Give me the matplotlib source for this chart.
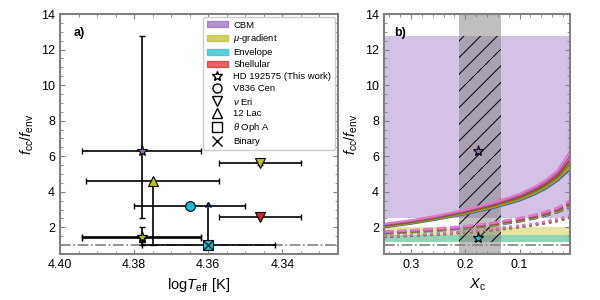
import numpy as np
import matplotlib
matplotlib.use("Agg")
import matplotlib.pyplot as plt
from matplotlib.patches import Patch
from matplotlib.lines import Line2D
from matplotlib.ticker import MultipleLocator

plt.rcParams['font.family'] = ['Liberation Sans', 'DejaVu Sans']
plt.rcParams['mathtext.fontset'] = 'custom'
plt.rcParams['mathtext.rm'] = 'Liberation Sans'
plt.rcParams['mathtext.it'] = 'Liberation Sans:italic'
plt.rcParams['mathtext.bf'] = 'Liberation Sans:bold'
plt.rcParams['hatch.linewidth'] = 0.7

# --- panel a data: (logTeff, f_cc/f_env, x err, y err low, y err high)
hd_cbm = (4.378, 6.28, 0.016, 3.78, 6.49)
hd_env = (4.378, 1.40, 0.016, 0.23, 0.15)
hd_mu = (4.378, 1.48, 0.016, 0.48, 0.56)
lac12 = (4.375, 4.63, 0.018, 3.63, 0.0)
v836 = (4.365, 3.18, 0.015, 0.0, 0.0)
oph = (4.360, 1.00, 0.018, 0.0, 2.14)
eri_mu = (4.346, 5.63, 0.011, 0.15, 0.15)
eri_sh = (4.346, 2.60, 0.011, 0.0, 0.0)

# --- panel b data
xc_obs = 0.176
fcc_cbm_obs = 6.28
fcc_env_obs = 1.40
xc_band = (0.135, 0.211)
cbm_range = (2.50, 12.77)
mu_range = (1.17, 2.04)
env_range = (1.17, 1.55)
hatch_range = (1.17, 12.77)

xc_grid = [0.35, 0.30, 0.25, 0.20, 0.15, 0.10, 0.07, 0.05, 0.03, 0.007]
solid_curves = [
    [2.00, 2.20, 2.45, 2.74, 3.07, 3.50, 3.88, 4.20, 4.62, 5.25],
    [2.04, 2.24, 2.49, 2.79, 3.13, 3.57, 3.96, 4.29, 4.72, 5.40],
    [2.08, 2.28, 2.53, 2.84, 3.19, 3.64, 4.04, 4.38, 4.82, 5.58],
    [2.12, 2.32, 2.58, 2.89, 3.25, 3.72, 4.13, 4.48, 4.94, 5.78],
    [2.16, 2.36, 2.62, 2.94, 3.31, 3.80, 4.22, 4.58, 5.06, 6.00],
    [2.20, 2.40, 2.67, 2.99, 3.38, 3.88, 4.32, 4.70, 5.20, 6.28],
]
dashed_curves = [
    [1.66, 1.73, 1.82, 1.94, 2.10, 2.33, 2.52, 2.67, 2.85, 3.15],
    [1.68, 1.75, 1.85, 1.97, 2.13, 2.37, 2.56, 2.72, 2.90, 3.22],
    [1.70, 1.77, 1.87, 1.99, 2.16, 2.41, 2.60, 2.76, 2.95, 3.29],
    [1.72, 1.79, 1.89, 2.02, 2.19, 2.44, 2.64, 2.81, 3.00, 3.36],
    [1.74, 1.81, 1.91, 2.04, 2.22, 2.48, 2.68, 2.85, 3.05, 3.43],
    [1.76, 1.83, 1.94, 2.07, 2.25, 2.52, 2.72, 2.90, 3.10, 3.52],
]
dotted_curves = [
    [1.46, 1.52, 1.60, 1.70, 1.83, 2.00, 2.13, 2.23, 2.35, 2.52],
    [1.47, 1.53, 1.61, 1.71, 1.85, 2.02, 2.15, 2.25, 2.37, 2.55],
    [1.48, 1.54, 1.62, 1.73, 1.86, 2.04, 2.17, 2.28, 2.40, 2.58],
    [1.49, 1.55, 1.63, 1.74, 1.88, 2.06, 2.19, 2.30, 2.42, 2.61],
    [1.50, 1.56, 1.64, 1.75, 1.89, 2.08, 2.21, 2.32, 2.44, 2.64],
    [1.52, 1.58, 1.66, 1.77, 1.91, 2.10, 2.23, 2.34, 2.47, 2.68],
]
curve_colors = ['tab:blue', 'tab:orange', 'tab:green', 'tab:red', 'tab:purple', 'tab:pink']

c_cbm, c_mu, c_env, c_sh = 'tab:purple', 'tab:olive', 'tab:cyan', 'tab:red'

fig = plt.figure(figsize=(6, 3), dpi=100)
ax1 = fig.add_axes([0.1, 0.1533, 0.4633, 0.80])
ax2 = fig.add_axes([0.64, 0.1533, 0.31, 0.80])


def point(ax, d, marker, color, ms=6.5, lolims=False, z=3):
    x, y, xe, ylo, yhi = d
    yerr = None
    if ylo > 0 or yhi > 0:
        yerr = [[ylo], [yhi]]
    ax.errorbar([x], [y], xerr=[[xe], [xe]], yerr=yerr, fmt='none', ecolor='black',
                elinewidth=1.2, capsize=2.5, capthick=1.0, lolims=lolims, zorder=z)
    ax.plot([x], [y], marker=marker, ms=ms, mfc=color, mec='black', mew=0.8,
            ls='none', zorder=z + 1)


ax1.axhline(1.0, color='gray', ls='-.', lw=1.2, zorder=1)
point(ax1, oph, 's', c_env, ms=7, lolims=True)
ax1.plot([oph[0]], [oph[1]], marker='x', ms=7, mec='black', mew=0.8, ls='none', zorder=5)
point(ax1, hd_cbm, '*', c_cbm, ms=8)
point(ax1, hd_env, '*', c_env, ms=8)
point(ax1, hd_mu, '*', c_mu, ms=8)
point(ax1, lac12, '^', c_mu, ms=7)
point(ax1, v836, 'o', c_env, ms=7)
point(ax1, eri_mu, 'v', c_mu, ms=7)
point(ax1, eri_sh, 'v', c_sh, ms=7)

ax1.set_xlim(4.40, 4.325)
ax1.set_ylim(0.5, 14)
ax1.xaxis.set_major_locator(MultipleLocator(0.02))
ax1.xaxis.set_minor_locator(MultipleLocator(0.005))
ax1.xaxis.set_major_formatter(matplotlib.ticker.FormatStrFormatter('%.2f'))
ax1.set_xlabel(r'log$T_{\rm eff}$ [K]', fontsize=10.5)
ax1.set_ylabel(r'$f_{\rm cc}/f_{\rm env}$', fontsize=10.5)
ax1.text(0.05, 0.945, 'a)', transform=ax1.transAxes, fontsize=9, fontweight='bold', va='top')

handles = [
    Patch(color=c_cbm, alpha=0.7, label='CBM'),
    Patch(color=c_mu, alpha=0.7, label=r'$\mu$-gradient'),
    Patch(color=c_env, alpha=0.7, label='Envelope'),
    Patch(color=c_sh, alpha=0.7, label='Shellular'),
    Line2D([], [], marker='*', ms=7, mfc='none', mec='black', ls='none', label='HD 192575 (This work)'),
    Line2D([], [], marker='o', ms=6.5, mfc='none', mec='black', ls='none', label='V836 Cen'),
    Line2D([], [], marker='v', ms=6.5, mfc='none', mec='black', ls='none', label=r'$\nu$ Eri'),
    Line2D([], [], marker='^', ms=6.5, mfc='none', mec='black', ls='none', label='12 Lac'),
    Line2D([], [], marker='s', ms=6.5, mfc='none', mec='black', ls='none', label=r'$\theta$ Oph A'),
    Line2D([], [], marker='x', ms=6.5, mec='black', ls='none', label='Binary'),
]
ax1.legend(handles=handles, loc='upper right', fontsize=6.8, handlelength=2.2,
           handleheight=0.6, labelspacing=0.3, borderaxespad=0.3, borderpad=0.4,
           handletextpad=0.6, framealpha=1.0)

# panel b
ax2.axhspan(*cbm_range, color=c_cbm, alpha=0.4, lw=0, zorder=0)
ax2.axhspan(*mu_range, color=c_mu, alpha=0.4, lw=0, zorder=0)
ax2.axhspan(*env_range, color=c_env, alpha=0.4, lw=0, zorder=0)
ax2.axvspan(*xc_band, color='gray', alpha=0.5, lw=0, zorder=0.5)
ax2.fill_between(xc_band, hatch_range[0], hatch_range[1], hatch='//', facecolor='none',
                 edgecolor='black', lw=0, zorder=0.6)
ax2.axhline(1.0, color='gray', ls='-.', lw=1.2, zorder=1)
for ys, c in zip(dotted_curves, curve_colors):
    ax2.plot(xc_grid, ys, color=c, ls=':', lw=1.8, zorder=2)
for ys, c in zip(dashed_curves, curve_colors):
    ax2.plot(xc_grid, ys, color=c, ls='--', lw=1.8, zorder=2)
for ys, c in zip(solid_curves, curve_colors):
    ax2.plot(xc_grid, ys, color=c, ls='-', lw=1.5, zorder=2)
ax2.plot([xc_obs], [fcc_cbm_obs], marker='*', ms=8, mfc=c_cbm, mec='black', mew=0.8, ls='none', zorder=5)
ax2.plot([xc_obs], [fcc_env_obs], marker='*', ms=8, mfc=c_env, mec='black', mew=0.8, ls='none', zorder=5)

ax2.set_xlim(0.35, 0.007)
ax2.set_ylim(0.5, 14)
ax2.xaxis.set_major_locator(MultipleLocator(0.1))
ax2.xaxis.set_minor_locator(MultipleLocator(0.02))
ax2.set_xlabel(r'$X_{\rm c}$', fontsize=10.5)
ax2.set_ylabel(r'$f_{\rm cc}/f_{\rm env}$', fontsize=10.5)
ax2.text(0.055, 0.945, 'b)', transform=ax2.transAxes, fontsize=9, fontweight='bold', va='top')

for ax in (ax1, ax2):
    ax.yaxis.set_major_locator(MultipleLocator(2))
    ax.yaxis.set_minor_locator(MultipleLocator(0.5))
    ax.tick_params(which='both', direction='in', top=True, right=True, labelsize=9, color='gray')
    ax.tick_params(which='major', length=3.5)
    ax.tick_params(which='minor', length=2)
    for s in ax.spines.values():
        s.set_color('gray')
        s.set_linewidth(1.5)

fig.savefig('out.png', dpi=100)
